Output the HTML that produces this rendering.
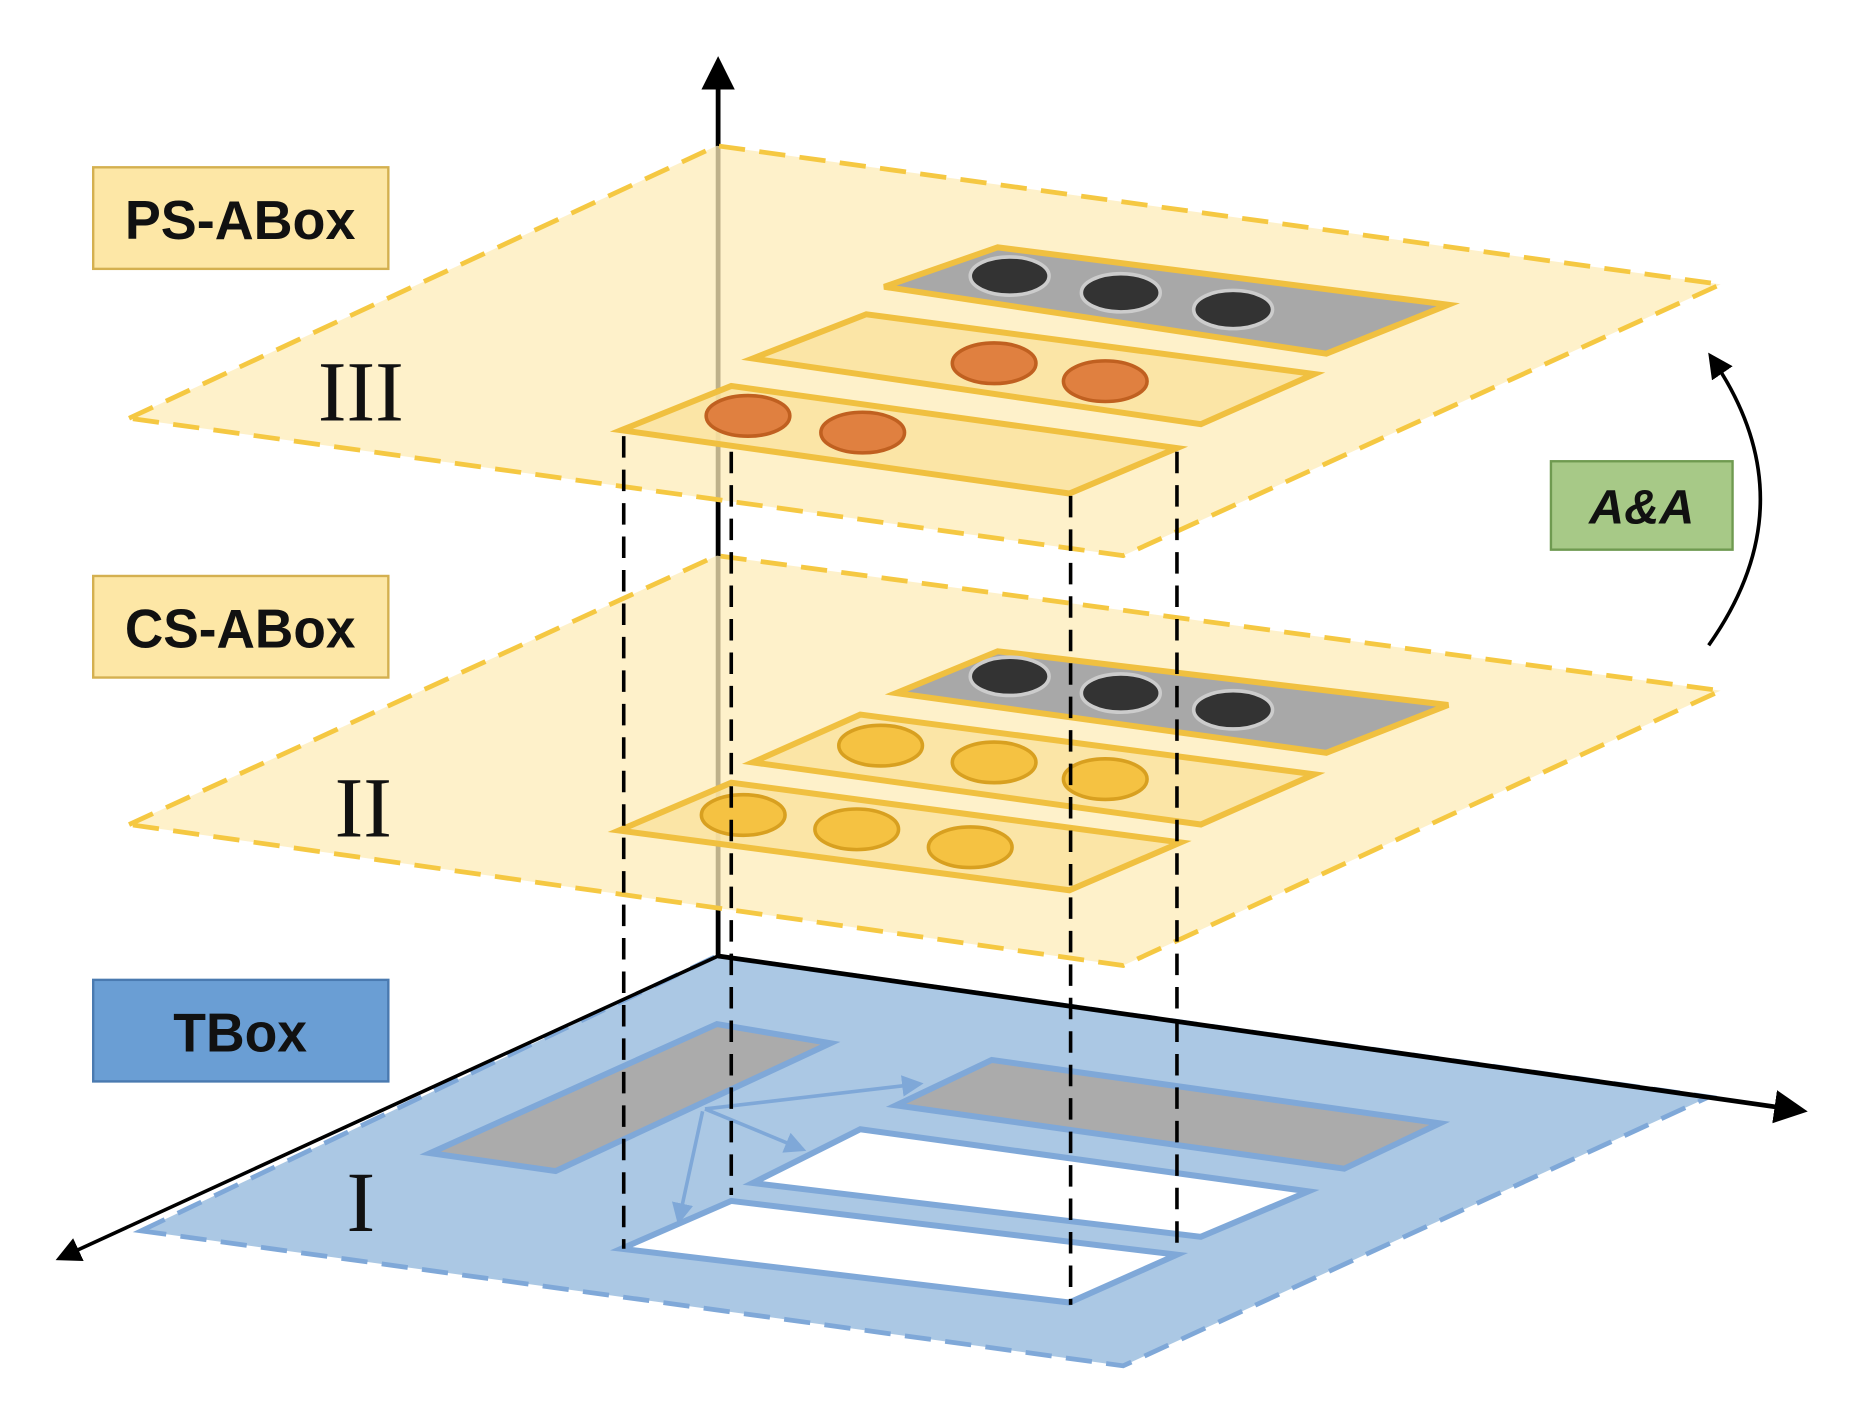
<!DOCTYPE html>
<html><head><meta charset="utf-8"><style>html,body{margin:0;padding:0;background:#fff}svg{display:block}</style></head>
<body>
<svg width="1864" height="1422" viewBox="0 0 1560 1190" preserveAspectRatio="none" xmlns="http://www.w3.org/2000/svg">
<defs>
<marker id="ah" markerWidth="7" markerHeight="7" refX="5" refY="3.5" orient="auto" markerUnits="strokeWidth"><path d="M0,0 L7,3.5 L0,7 Z" fill="#000"/></marker>
<marker id="bh" markerWidth="6" markerHeight="6" refX="5" refY="3" orient="auto" markerUnits="strokeWidth"><path d="M0,0 L6,3 L0,6 Z" fill="#7fa8d8"/></marker>
</defs>
<g>
<polygon points="118,1030 600,800 1430,918 940,1143" fill="#abc8e4" stroke="#7fa8d8" stroke-width="4" stroke-dasharray="22,12"/>
<polygon points="360,965 600,857 695,873 465,980" fill="#ababab" stroke="#7fa8d8" stroke-width="5"/>
<polygon points="750,925 830,887 1205,940 1125,978" fill="#ababab" stroke="#7fa8d8" stroke-width="5"/>
<polygon points="630,990 720,945 1095,997 1005,1035" fill="#fff" stroke="#7fa8d8" stroke-width="5"/>
<polygon points="520,1045 612,1005 985,1050 895,1090" fill="#fff" stroke="#7fa8d8" stroke-width="5"/>
<line x1="590" y1="928" x2="770" y2="907" stroke="#7fa8d8" stroke-width="3" marker-end="url(#bh)"/>
<line x1="590" y1="928" x2="672" y2="962" stroke="#7fa8d8" stroke-width="3" marker-end="url(#bh)"/>
<line x1="588" y1="930" x2="568" y2="1022" stroke="#7fa8d8" stroke-width="3" marker-end="url(#bh)"/>
</g>
<line x1="601" y1="800" x2="1505" y2="929" stroke="#000" stroke-width="4" marker-end="url(#ah)"/>
<line x1="601" y1="800" x2="52" y2="1052" stroke="#000" stroke-width="3" marker-end="url(#ah)"/>
<line x1="601" y1="800" x2="601" y2="55" stroke="#000" stroke-width="4" marker-end="url(#ah)"/>
<g>
<polygon points="108,690 600,465 1440,578 940,808" fill="#fdecb8" fill-opacity="0.75" stroke="#f5c842" stroke-width="4" stroke-dasharray="22,12"/>
<polygon points="750,580 835,545 1212,590 1110,630" fill="#a8a8a8" stroke="#f0c040" stroke-width="5"/>
<ellipse cx="845" cy="566" rx="33" ry="16" fill="#333" stroke="#ccc" stroke-width="3"/>
<ellipse cx="938" cy="580" rx="33" ry="16" fill="#333" stroke="#ccc" stroke-width="3"/>
<ellipse cx="1032" cy="594" rx="33" ry="16" fill="#333" stroke="#ccc" stroke-width="3"/>
<polygon points="630,638 720,598 1100,648 1005,690" fill="#fae3a0" fill-opacity="0.85" stroke="#f0c040" stroke-width="5"/>
<ellipse cx="737" cy="624" rx="35" ry="17" fill="#f5c242" stroke="#d8a020" stroke-width="3"/>
<ellipse cx="832" cy="638" rx="35" ry="17" fill="#f5c242" stroke="#d8a020" stroke-width="3"/>
<ellipse cx="925" cy="652" rx="35" ry="17" fill="#f5c242" stroke="#d8a020" stroke-width="3"/>
<polygon points="518,695 612,655 988,705 895,745" fill="#fae3a0" fill-opacity="0.85" stroke="#f0c040" stroke-width="5"/>
<ellipse cx="622" cy="682" rx="35" ry="17" fill="#f5c242" stroke="#d8a020" stroke-width="3"/>
<ellipse cx="717" cy="694" rx="35" ry="17" fill="#f5c242" stroke="#d8a020" stroke-width="3"/>
<ellipse cx="812" cy="709" rx="35" ry="17" fill="#f5c242" stroke="#d8a020" stroke-width="3"/>
</g>
<g>
<polygon points="108,350 600,122 1440,238 940,465" fill="#fdecb8" fill-opacity="0.75" stroke="#f5c842" stroke-width="4" stroke-dasharray="22,12"/>
<polygon points="740,240 835,207 1212,255 1110,296" fill="#a8a8a8" stroke="#f0c040" stroke-width="5"/>
<ellipse cx="845" cy="231" rx="33" ry="16" fill="#333" stroke="#ccc" stroke-width="3"/>
<ellipse cx="938" cy="245" rx="33" ry="16" fill="#333" stroke="#ccc" stroke-width="3"/>
<ellipse cx="1032" cy="259" rx="33" ry="16" fill="#333" stroke="#ccc" stroke-width="3"/>
<polygon points="630,300 725,263 1100,313 1005,355" fill="#fae3a0" fill-opacity="0.85" stroke="#f0c040" stroke-width="5"/>
<ellipse cx="832" cy="304" rx="35" ry="17" fill="#e08040" stroke="#c06020" stroke-width="3"/>
<ellipse cx="925" cy="319" rx="35" ry="17" fill="#e08040" stroke="#c06020" stroke-width="3"/>
<polygon points="520,360 612,323 985,375 895,413" fill="#fae3a0" fill-opacity="0.85" stroke="#f0c040" stroke-width="5"/>
<ellipse cx="626" cy="348" rx="35" ry="17" fill="#e08040" stroke="#c06020" stroke-width="3"/>
<ellipse cx="722" cy="362" rx="35" ry="17" fill="#e08040" stroke="#c06020" stroke-width="3"/>
</g>
<g stroke="#000" stroke-width="3" stroke-dasharray="18,10">
<line x1="522" y1="365" x2="522" y2="1045"/>
<line x1="612" y1="378" x2="612" y2="1000"/>
<line x1="896" y1="415" x2="896" y2="1092"/>
<line x1="985" y1="378" x2="985" y2="1050"/>
</g>
<g font-family="'Liberation Sans', sans-serif" font-weight="bold" font-size="46" text-anchor="middle">
<rect x="78" y="140" width="247" height="85" fill="#fde7a6" stroke="#d4b050" stroke-width="2"/>
<text x="201" y="200" fill="#111" textLength="193" lengthAdjust="spacingAndGlyphs">PS-ABox</text>
<rect x="78" y="482" width="247" height="85" fill="#fde7a6" stroke="#d4b050" stroke-width="2"/>
<text x="201" y="542" fill="#111" textLength="193" lengthAdjust="spacingAndGlyphs">CS-ABox</text>
<rect x="78" y="820" width="247" height="85" fill="#6a9ed4" stroke="#4a7ab0" stroke-width="2"/>
<text x="201" y="880" fill="#111" textLength="112" lengthAdjust="spacingAndGlyphs">TBox</text>
<rect x="1298" y="386" width="152" height="74" fill="#a7c987" stroke="#6f9a50" stroke-width="2"/>
<text x="1374" y="438" font-style="italic" font-size="40" fill="#111" textLength="88" lengthAdjust="spacingAndGlyphs">A&amp;A</text>
</g>
<g font-family="'Liberation Serif', serif" font-size="72" text-anchor="middle" fill="#111">
<text x="302" y="352">III</text>
<text x="304" y="700">II</text>
<text x="302" y="1030">I</text>
</g>
<path d="M1430,540 Q1515,420 1433,300" fill="none" stroke="#000" stroke-width="3" marker-end="url(#ah)"/>
</svg>
</body></html>
